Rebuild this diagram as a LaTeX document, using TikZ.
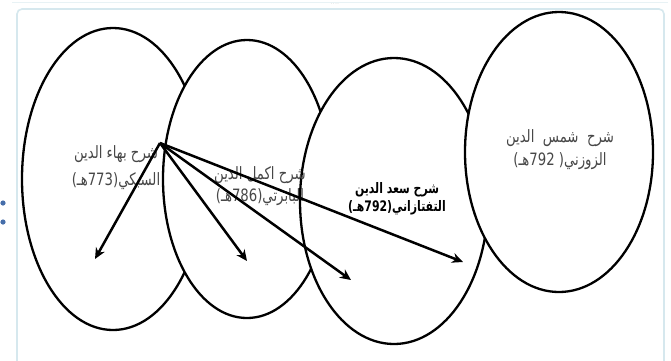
\documentclass[tikz,border=0pt]{standalone}
\usepackage{fontspec}
\usepackage{graphicx}
\usetikzlibrary{arrows.meta,shapes.geometric}
\TeXXeTstate=1
\newfontfamily\arabicfont[Script=Arabic]{DejaVu Sans}
\newcommand\artxt[2][0.78]{\scalebox{#1}[1]{\arabicfont\beginR #2\endR}}
\definecolor{framec}{RGB}{214,232,238}
\definecolor{framel}{RGB}{232,242,245}
\definecolor{handleblue}{RGB}{70,110,170}
\begin{document}
\begin{tikzpicture}[x=1pt,y=-1pt,
  ell/.style={ellipse, draw=black, fill=white, line width=2.3pt, inner sep=0pt},
  arr/.style={line width=2.5pt, -{Stealth[length=11pt,width=10pt]}},
  lbl/.style={text=black!72, font=\fontsize{17}{27}\selectfont, align=center, inner sep=0pt},
  lblb/.style={text=black, font=\fontsize{14.5}{18}\selectfont\bfseries, align=center, inner sep=0pt},
  frameline/.style={draw=framec, line width=1.6pt}]
\useasboundingbox (0,0) rectangle (671,360);
\fill[white] (0,0) rectangle (671,360);
% canvas frame
\draw[frameline, rounded corners=5pt] (17,9) rectangle (664,372);
\draw[framel, line width=1pt] (12,2) -- (668,2);
\node[inner sep=0pt, text=black!35, font=\tiny] (hdl) at (335,4) {....};
\fill[handleblue] (3,203) circle (2.6);
\fill[handleblue] (3,222) circle (2.6);
% ellipses
\node[ell, minimum width=182pt, minimum height=302pt] (e1) at (113,179) {};
\node[ell, minimum width=168pt, minimum height=278pt] (e2) at (247,179) {};
\node[ell, minimum width=188pt, minimum height=286pt] (e3) at (394,201) {};
\node[ell, minimum width=188pt, minimum height=280pt] (e4) at (559,152) {};
% labels
\node[lbl] (t1) at (116,168) {\artxt{شرح بهاء الدين}\\\artxt{السبكي(773هـ)}};
\node[lbl, font=\fontsize{17}{22}\selectfont] (t2) at (260,186) {\artxt{شرح اكمل الدين}\\\artxt{البابرتي(786هـ)}};
\node[lblb] (t3) at (397,199) {\artxt[0.75]{شرح سعد الدين}\\\artxt[0.75]{التفتازاني(792هـ)}};
\node[lbl, font=\fontsize{17}{23}\selectfont] (t4) at (560,150) {\artxt{شرح~~شمس~~الدين}\\\artxt{الزوزني( 792هـ)}};
% arrows
\coordinate (src) at (160,143);
\coordinate (a1) at (95,259);
\coordinate (a2) at (247,261);
\coordinate (a3) at (351,280);
\coordinate (a4) at (463,262);
\draw[arr] (src) -- (a1);
\draw[arr] (src) -- (a2);
\draw[arr] (src) -- (a3);
\draw[arr] (src) -- (a4);
\end{tikzpicture}
\end{document}
